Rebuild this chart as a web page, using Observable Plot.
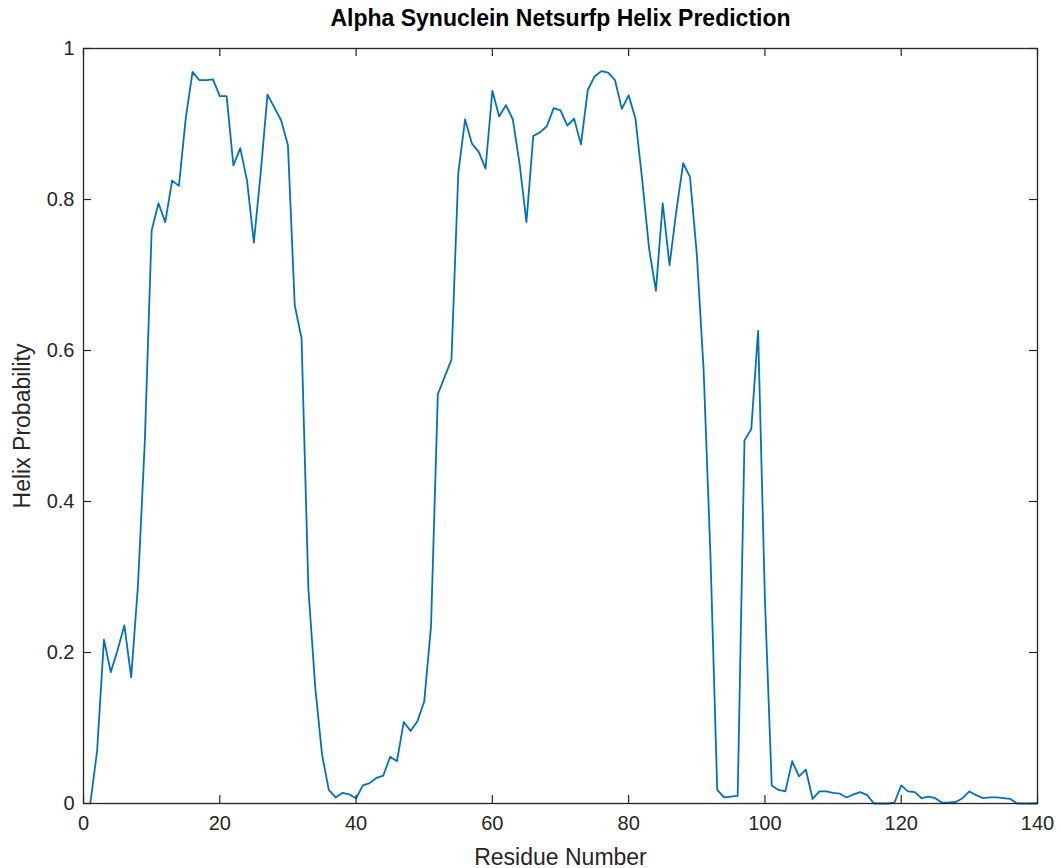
<!DOCTYPE html>
<html>
<head>
<meta charset="utf-8">
<script src="https://cdn.jsdelivr.net/npm/d3@7"></script>
<script src="https://cdn.jsdelivr.net/npm/@observablehq/plot@0.6"></script>
<style>
  body { margin: 0; background: #ffffff; }
  #chart { width: 1061px; height: 868px; }
</style>
</head>
<body>
<div id="chart"></div>
<script>
// NetSurfP helix probability per residue of alpha-synuclein (140 residues)
const residues = d3.range(1, 141);
const helixProb = [
  0.000, 0.070, 0.217, 0.174, 0.203, 0.236, 0.167, 0.290, 0.480, 0.759,
  0.795, 0.770, 0.825, 0.818, 0.907, 0.969, 0.958, 0.958, 0.959, 0.937,
  0.937, 0.845, 0.868, 0.825, 0.743, 0.835, 0.939, 0.922, 0.905, 0.872,
  0.660, 0.616, 0.285, 0.155, 0.065, 0.018, 0.008, 0.014, 0.012, 0.007,
  0.024, 0.027, 0.034, 0.037, 0.062, 0.056, 0.108, 0.096, 0.109, 0.135,
  0.235, 0.542, 0.565, 0.588, 0.835, 0.906, 0.874, 0.863, 0.841, 0.944,
  0.910, 0.925, 0.906, 0.847, 0.770, 0.884, 0.889, 0.897, 0.921, 0.918,
  0.898, 0.907, 0.873, 0.945, 0.963, 0.970, 0.968, 0.958, 0.920, 0.938,
  0.907, 0.825, 0.735, 0.679, 0.795, 0.713, 0.785, 0.848, 0.830, 0.728,
  0.575, 0.330, 0.018, 0.008, 0.009, 0.010, 0.481, 0.496, 0.626, 0.270,
  0.024, 0.018, 0.016, 0.056, 0.036, 0.045, 0.006, 0.016, 0.016, 0.014,
  0.013, 0.008, 0.012, 0.015, 0.011, 0.000, 0.000, 0.000, 0.001, 0.024,
  0.016, 0.015, 0.007, 0.009, 0.007, 0.001, 0.001, 0.002, 0.007, 0.016,
  0.011, 0.007, 0.008, 0.008, 0.007, 0.006, 0.000, 0.000, 0.000, 0.000
];
const xTicks = [0, 20, 40, 60, 80, 100, 120, 140];
const yTicks = [0, 0.2, 0.4, 0.6, 0.8, 1];
const yTickLabels = ["0", "0.2", "0.4", "0.6", "0.8", "1"];

const titleText = "Alpha Synuclein Netsurfp Helix Prediction";
const xLabel = "Residue Number";
const yLabel = "Helix Probability";

const rows = residues.map((r, i) => ({residue: r, prob: helixProb[i]}));

const ink = "#262626";
const lineBlue = "#0072bd";
const font = "'Liberation Sans', Arial, Helvetica, sans-serif";

// inward tick lengths, in data units (about 8px each way)
const xTickLen = 0.0106;
const yTickLen = 1.17;

const chart = Plot.plot({
  width: 1061,
  height: 868,
  marginLeft: 83,
  marginRight: 24,
  marginTop: 48,
  marginBottom: 65,
  style: {fontFamily: font, fontSize: "20px", color: ink, background: "#ffffff", overflow: "visible"},
  x: {domain: [0, 140]},
  y: {domain: [0, 1]},
  marks: [
    Plot.lineY(rows, {x: "residue", y: "prob", stroke: lineBlue, strokeWidth: 1.8}),
    // inward ticks on all four sides
    Plot.ruleX(xTicks, {x: d => d, y1: 0, y2: xTickLen, stroke: ink, strokeWidth: 1.2}),
    Plot.ruleX(xTicks, {x: d => d, y1: 1, y2: 1 - xTickLen, stroke: ink, strokeWidth: 1.2}),
    Plot.ruleY(yTicks, {y: d => d, x1: 0, x2: yTickLen, stroke: ink, strokeWidth: 1.2}),
    Plot.ruleY(yTicks, {y: d => d, x1: 140, x2: 140 - yTickLen, stroke: ink, strokeWidth: 1.2}),
    Plot.frame({stroke: ink, strokeWidth: 1.3}),
    Plot.axisX(xTicks, {tickSize: 0, tickPadding: 12, label: null, fontSize: 20, fill: ink}),
    Plot.axisY(yTicks, {tickSize: 0, tickPadding: 9, label: null, fontSize: 20, fill: ink,
      tickFormat: d => yTickLabels[yTicks.indexOf(d)]}),
    Plot.text([titleText], {frameAnchor: "top", dy: -30, lineAnchor: "middle", fontWeight: "bold", fontSize: 23, fill: "#000"}),
    Plot.text([xLabel], {frameAnchor: "bottom", dy: 54, lineAnchor: "middle", fontSize: 23, fill: ink}),
    Plot.text([yLabel], {frameAnchor: "left", dx: -61, rotate: -90, textAnchor: "middle", fontSize: 23, fill: ink})
  ]
});

document.getElementById("chart").append(chart);
</script>
</body>
</html>
